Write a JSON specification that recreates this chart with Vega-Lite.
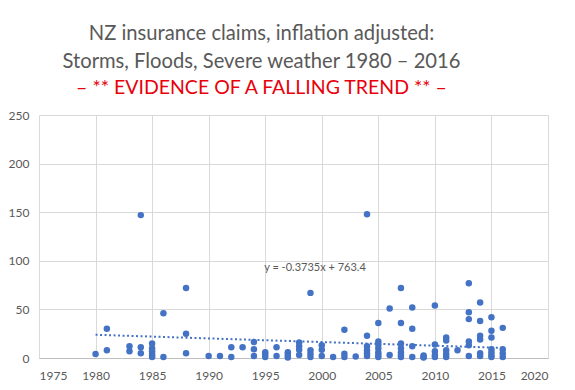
{
  "$schema": "https://vega.github.io/schema/vega-lite/v6.json",
  "autosize": "none",
  "width": 509,
  "height": 243,
  "padding": {"left": 39, "top": 115, "right": 27, "bottom": 32},
  "background": "white",
  "config": {"view": {"stroke": null}, "font": "Lato"},
  "title": {
    "text": ["NZ insurance claims, inflation adjusted:", "Storms, Floods, Severe weather 1980 – 2016"],
    "subtitle": "– ** EVIDENCE OF A FALLING TREND ** –",
    "anchor": "middle",
    "dx": -32,
    "fontSize": 20.2,
    "fontWeight": "normal",
    "font": "Lato",
    "color": "#595959",
    "lineHeight": 28,
    "subtitleFontSize": 19.5,
    "subtitleFont": "Lato",
    "subtitleColor": "#E8000B",
    "subtitlePadding": 6,
    "offset": 12
  },
  "datasets": {
    "claims": [
      {"year": 1980, "cost": 4},
      {"year": 1981, "cost": 30}, {"year": 1981, "cost": 8},
      {"year": 1983, "cost": 12}, {"year": 1983, "cost": 7},
      {"year": 1984, "cost": 147}, {"year": 1984, "cost": 11}, {"year": 1984, "cost": 5},
      {"year": 1985, "cost": 15}, {"year": 1985, "cost": 10}, {"year": 1985, "cost": 7}, {"year": 1985, "cost": 4}, {"year": 1985, "cost": 2}, {"year": 1985, "cost": 1},
      {"year": 1986, "cost": 46}, {"year": 1986, "cost": 1},
      {"year": 1988, "cost": 72}, {"year": 1988, "cost": 25}, {"year": 1988, "cost": 5},
      {"year": 1990, "cost": 2},
      {"year": 1991, "cost": 2},
      {"year": 1992, "cost": 11}, {"year": 1992, "cost": 1},
      {"year": 1993, "cost": 11},
      {"year": 1994, "cost": 16.5}, {"year": 1994, "cost": 9}, {"year": 1994, "cost": 2},
      {"year": 1995, "cost": 6}, {"year": 1995, "cost": 3.5}, {"year": 1995, "cost": 1},
      {"year": 1996, "cost": 11}, {"year": 1996, "cost": 2},
      {"year": 1997, "cost": 6}, {"year": 1997, "cost": 4}, {"year": 1997, "cost": 2}, {"year": 1997, "cost": 0.5},
      {"year": 1998, "cost": 16}, {"year": 1998, "cost": 12}, {"year": 1998, "cost": 8.5}, {"year": 1998, "cost": 3},
      {"year": 1999, "cost": 67}, {"year": 1999, "cost": 8}, {"year": 1999, "cost": 4.5}, {"year": 1999, "cost": 1},
      {"year": 2000, "cost": 13}, {"year": 2000, "cost": 8.5}, {"year": 2000, "cost": 2},
      {"year": 2001, "cost": 1},
      {"year": 2002, "cost": 29}, {"year": 2002, "cost": 4.5}, {"year": 2002, "cost": 1},
      {"year": 2003, "cost": 1.5},
      {"year": 2004, "cost": 148}, {"year": 2004, "cost": 23}, {"year": 2004, "cost": 12}, {"year": 2004, "cost": 8}, {"year": 2004, "cost": 5}, {"year": 2004, "cost": 2},
      {"year": 2005, "cost": 36}, {"year": 2005, "cost": 17}, {"year": 2005, "cost": 14}, {"year": 2005, "cost": 10}, {"year": 2005, "cost": 6}, {"year": 2005, "cost": 3}, {"year": 2005, "cost": 1},
      {"year": 2006, "cost": 51}, {"year": 2006, "cost": 3},
      {"year": 2007, "cost": 72}, {"year": 2007, "cost": 36}, {"year": 2007, "cost": 15}, {"year": 2007, "cost": 10}, {"year": 2007, "cost": 6}, {"year": 2007, "cost": 3}, {"year": 2007, "cost": 1},
      {"year": 2008, "cost": 52}, {"year": 2008, "cost": 30}, {"year": 2008, "cost": 12}, {"year": 2008, "cost": 1},
      {"year": 2009, "cost": 2.5}, {"year": 2009, "cost": 1}, {"year": 2009, "cost": 0.5},
      {"year": 2010, "cost": 54}, {"year": 2010, "cost": 14}, {"year": 2010, "cost": 7}, {"year": 2010, "cost": 3}, {"year": 2010, "cost": 1},
      {"year": 2011, "cost": 21}, {"year": 2011, "cost": 18}, {"year": 2011, "cost": 8}, {"year": 2011, "cost": 4}, {"year": 2011, "cost": 1},
      {"year": 2012, "cost": 8},
      {"year": 2013, "cost": 77}, {"year": 2013, "cost": 47}, {"year": 2013, "cost": 40}, {"year": 2013, "cost": 17}, {"year": 2013, "cost": 13}, {"year": 2013, "cost": 2},
      {"year": 2014, "cost": 57}, {"year": 2014, "cost": 38}, {"year": 2014, "cost": 23}, {"year": 2014, "cost": 19}, {"year": 2014, "cost": 5}, {"year": 2014, "cost": 2},
      {"year": 2015, "cost": 42}, {"year": 2015, "cost": 28}, {"year": 2015, "cost": 21}, {"year": 2015, "cost": 9}, {"year": 2015, "cost": 6}, {"year": 2015, "cost": 3}, {"year": 2015, "cost": 1},
      {"year": 2016, "cost": 31}, {"year": 2016, "cost": 9}, {"year": 2016, "cost": 5}, {"year": 2016, "cost": 1}
    ],
    "trend": [
      {"year": 1980, "cost": 23.9},
      {"year": 2016, "cost": 10.4}
    ],
    "label": [
      {"year": 1999.4, "cost": 93, "text": "y = -0.3735x + 763.4"}
    ]
  },
  "layer": [
    {
      "data": {"name": "claims"},
      "mark": {"type": "point", "filled": true, "size": 42, "color": "#4472C4", "opacity": 1},
      "encoding": {
        "x": {
          "field": "year", "type": "quantitative",
          "scale": {"domain": [1975, 2020], "nice": false, "zero": false},
          "axis": {
            "title": null, "values": [1975, 1980, 1985, 1990, 1995, 2000, 2005, 2010, 2015, 2020],
            "format": "d", "domain": true, "domainColor": "#bfbfbf", "ticks": false,
            "grid": true, "gridColor": "#d9d9d9", "labelColor": "#595959",
            "labelFontSize": 12, "labelFont": "Lato", "labelPadding": 12
          }
        },
        "y": {
          "field": "cost", "type": "quantitative",
          "scale": {"domain": [0, 250], "nice": false},
          "axis": {
            "title": null, "values": [0, 50, 100, 150, 200, 250],
            "domain": false, "ticks": false, "grid": true, "gridColor": "#d9d9d9",
            "labelColor": "#595959", "labelFontSize": 12, "labelFont": "Lato", "labelPadding": 10
          }
        }
      }
    },
    {
      "data": {"name": "trend"},
      "mark": {"type": "line", "color": "#4472C4", "strokeWidth": 2, "strokeDash": [2, 2.5]},
      "encoding": {
        "x": {"field": "year", "type": "quantitative"},
        "y": {"field": "cost", "type": "quantitative"}
      }
    },
    {
      "data": {"name": "label"},
      "mark": {"type": "text", "color": "#595959", "fontSize": 11, "font": "Lato", "align": "center", "baseline": "middle"},
      "encoding": {
        "x": {"field": "year", "type": "quantitative"},
        "y": {"field": "cost", "type": "quantitative"},
        "text": {"field": "text"}
      }
    }
  ]
}
